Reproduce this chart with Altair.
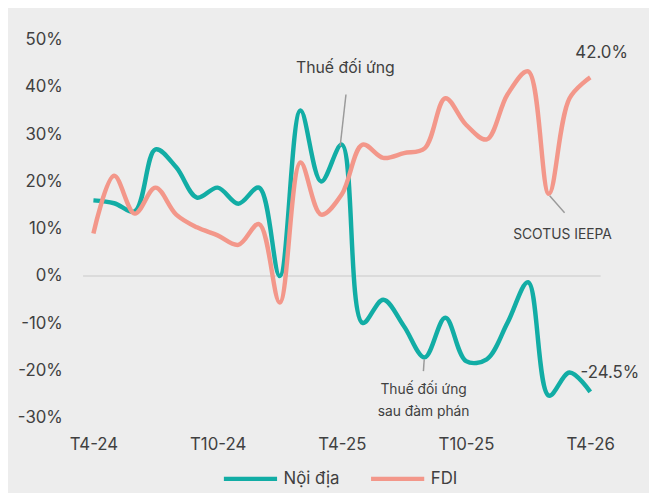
import altair as alt
import pandas as pd

# ---- data ----
months = ["T4-24","T5-24","T6-24","T7-24","T8-24","T9-24","T10-24","T11-24","T12-24",
          "T1-25","T2-25","T3-25","T4-25","T5-25","T6-25","T7-25","T8-25","T9-25",
          "T10-25","T11-25","T12-25","T1-26","T2-26","T3-26","T4-26"]
noi_dia = [16.0, 15.4, 13.7, 26.8, 23.0, 16.6, 18.7, 15.3, 18.7, 0.0, 35.0, 20.0, 27.8,
           -9.9, -5.0, -10.6, -17.2, -8.8, -18.0, -17.6, -9.9, -1.3, -25.3, -20.4, -24.5]
fdi = [9.0, 21.2, 13.2, 18.7, 13.0, 10.3, 8.6, 6.6, 11.0, -5.6, 24.0, 13.0, 17.3,
       27.8, 25.0, 26.0, 27.0, 37.6, 32.0, 28.9, 38.4, 43.3, 17.4, 37.6, 42.0]
series_names = ["Nội địa", "FDI"]
colors = ["#12ADA5", "#F3978A"]
tick_idx = [0, 6, 12, 18, 24]
tick_labels = ["T4-24", "T10-24", "T4-25", "T10-25", "T4-26"]

# annotations (data coords: month index, value %)
ann_big = pd.DataFrame({"m": [12.17], "v": [43.9], "t": ["Thuế đối ứng"]})
ann_small = pd.DataFrame({"m": [15.95, 15.95, 22.66], "v": [-24.2, -28.8, 8.6],
                          "t": ["Thuế đối ứng", "sau đàm phán", "SCOTUS IEEPA"]})
ann_vals = pd.DataFrame({"m": [24.55, 24.95], "v": [47.2, -20.5], "t": ["42.0%", "-24.5%"]})
leaders = pd.DataFrame({"m": [12.2, 22.04, 15.98], "v": [38.4, 17.0, -17.6],
                        "m2": [11.92, 22.76, 15.94], "v2": [27.5, 13.4, -20.1]})
zero = pd.DataFrame({"y": [0]})

rows = []
for name, vals in zip(series_names, [noi_dia, fdi]):
    for i, (mo, v) in enumerate(zip(months, vals)):
        rows.append({"i": i, "month": mo, "series": name, "value": v})
df = pd.DataFrame(rows)

FONT = "Inter"
TXT = "#404040"

label_arr = "{" + ",".join(f"'{k}':'{l}'" for k, l in zip(tick_idx, tick_labels)) + "}"

xscale = alt.Scale(domain=[-0.5, 24.5], nice=False, zero=False)
yscale = alt.Scale(domain=[-30, 50], nice=False)

base_x = alt.X("i:Q", scale=xscale, title=None,
               axis=alt.Axis(values=tick_idx, labelExpr=f"{label_arr}[datum.value]",
                             labelPadding=19, grid=False, domain=False, ticks=False,
                             labelFontSize=17, labelColor=TXT, labelFont=FONT))
base_y = alt.Y("value:Q", scale=yscale, title=None,
               axis=alt.Axis(values=list(range(-30, 51, 10)), labelExpr="datum.value + '%'",
                             labelPadding=21, grid=False, domain=False, ticks=False,
                             labelFontSize=17, labelColor=TXT, labelFont=FONT))

zero_rule = alt.Chart(zero).mark_rule(color="#d4d4d4", strokeWidth=1.5).encode(
    y=alt.Y("y:Q", scale=yscale))

lines = alt.Chart(df).mark_line(strokeWidth=4.5, interpolate="catmull-rom").encode(
    x=base_x, y=base_y,
    color=alt.Color("series:N", sort=series_names,
                    scale=alt.Scale(domain=series_names, range=colors),
                    legend=alt.Legend(title=None, orient="none", direction="horizontal",
                                      legendX=140, legendY=415, symbolType="stroke",
                                      symbolSize=2900, symbolStrokeWidth=4.5,
                                      labelFontSize=17, labelFont=FONT, labelColor=TXT,
                                      labelOffset=4, columnPadding=22, padding=0)),
    order=alt.Order("series:N", sort="descending"))

lead = alt.Chart(leaders).mark_rule(color="#9a9a9a", strokeWidth=1.5).encode(
    x=alt.X("m:Q", scale=xscale), y=alt.Y("v:Q", scale=yscale),
    x2="m2:Q", y2="v2:Q")

t_big = alt.Chart(ann_big).mark_text(fontSize=16, font=FONT, color=TXT).encode(
    x=alt.X("m:Q", scale=xscale), y=alt.Y("v:Q", scale=yscale), text="t:N")
t_small = alt.Chart(ann_small).mark_text(fontSize=14, font=FONT, color=TXT).encode(
    x=alt.X("m:Q", scale=xscale), y=alt.Y("v:Q", scale=yscale), text="t:N")
t_vals = alt.Chart(ann_vals).mark_text(fontSize=17, font=FONT, color=TXT).encode(
    x=alt.X("m:Q", scale=xscale), y=alt.Y("v:Q", scale=yscale), text="t:N")

chart = alt.layer(zero_rule, lines, lead, t_big, t_small, t_vals).properties(
    width=524, height=383,
    background="#ededed",
    padding={"left": 76, "top": 29, "right": 49, "bottom": 73},
    autosize=alt.AutoSizeParams(type="none"),
).configure_view(stroke=None)

chart.save("out.html", embed_options={"renderer": "svg", "actions": False})
